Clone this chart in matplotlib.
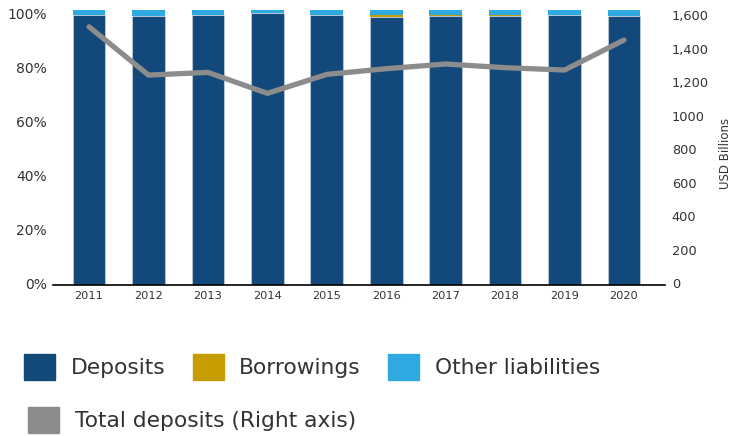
import matplotlib
matplotlib.use("Agg")
import matplotlib.pyplot as plt
from matplotlib.patches import Patch
from matplotlib.transforms import ScaledTranslation
import numpy as np

years = ["2011", "2012", "2013", "2014", "2015", "2016", "2017", "2018", "2019", "2020"]
deposits = [100.0, 99.8, 100.0, 100.9, 100.0, 99.4, 99.75, 99.75, 99.9, 99.8]
borrowings = [0.0, 0.0, 0.0, 0.0, 0.0, 0.6, 0.25, 0.25, 0.0, 0.0]
other_liab = [1.85, 2.0, 1.85, 0.95, 1.85, 1.85, 1.85, 1.85, 1.95, 2.0]
total_deposits = [1540, 1252, 1268, 1143, 1256, 1290, 1318, 1296, 1282, 1461]

left_ticks = [0, 20, 40, 60, 80, 100]
left_labels = ["0%", "20%", "40%", "60%", "80%", "100%"]
right_ticks = [0, 200, 400, 600, 800, 1000, 1200, 1400, 1600]
right_labels = ["0", "200", "400", "600", "800", "1000", "1,200", "1,400", "1,600"]

c_dep = "#12487A"
c_bor = "#C69C00"
c_oth = "#2EAAE1"
c_line = "#8C8C8C"
txt = "#333333"

plt.rcParams["font.family"] = ["DejaVu Sans"]

fig = plt.figure(figsize=(7.46, 4.36), dpi=100)
ax = fig.add_axes([53/746, 1-285/436, 612/746, 277/436])
x = np.arange(len(years))
w = 0.55
edge = (1, 1, 1, 0.35)
dep = np.array(deposits)
bor = np.array(borrowings)
oth = np.array(other_liab)
ax.bar(x, dep, w, color=c_dep, edgecolor=edge, linewidth=0.8)
ax.bar(x, bor, w, bottom=dep, color=c_bor, edgecolor="none")
ax.bar(x, oth, w, bottom=dep+bor, color=c_oth, edgecolor="none")
ax.set_xlim(-0.606, 9.69)
ax.set_ylim(0, 102.6)
ax.set_yticks(left_ticks)
ax.set_yticklabels(left_labels, fontsize=10, color=txt)
ax.set_xticks(x)
ax.set_xticklabels(years, fontsize=8.2, color=txt)
ax.tick_params(axis="y", length=0, pad=4.5)
ax.tick_params(axis="x", length=0, pad=4.5)
for s in ["left", "right", "top"]:
    ax.spines[s].set_visible(False)
ax.spines["bottom"].set_color("black")
ax.spines["bottom"].set_linewidth(1.2)

ax2 = ax.twinx()
ax2.plot(x, total_deposits, color=c_line, linewidth=3.8, solid_capstyle="round", solid_joinstyle="round")
ax2.set_ylim(0, 1652)
ax2.set_yticks(right_ticks)
ax2.set_yticklabels(right_labels, fontsize=9.3, color=txt)
ax2.tick_params(axis="y", length=0, pad=4.8)
for s in ["left", "right", "top", "bottom"]:
    ax2.spines[s].set_visible(False)
ax2.set_ylabel("USD Billions", fontsize=8.5, color=txt)
ax2.yaxis.set_label_coords(1.088, 0.4765)

up = ScaledTranslation(0, 1.1/72, fig.dpi_scale_trans)
for lab in ax.get_yticklabels():
    lab.set_transform(lab.get_transform() + up)
for lab in ax2.get_yticklabels():
    lab.set_transform(lab.get_transform() + up)

h1 = [Patch(color=c_dep, label="Deposits"),
      Patch(color=c_bor, label="Borrowings"),
      Patch(color=c_oth, label="Other liabilities")]
leg1 = fig.legend(handles=h1, loc="center left", bbox_to_anchor=(24/746, 1-367/436),
                  ncol=3, frameon=False, fontsize=15.7, borderpad=0, borderaxespad=0,
                  handlelength=1.44, handleheight=1.4, handletextpad=0.7, columnspacing=1.25,
                  labelcolor=txt)
h2 = [Patch(color=c_line, label="Total deposits (Right axis)")]
leg2 = fig.legend(handles=h2, loc="center left", bbox_to_anchor=(28/746, 1-420/436),
                  ncol=1, frameon=False, fontsize=15.7, borderpad=0, borderaxespad=0,
                  handlelength=1.44, handleheight=1.4, handletextpad=0.7,
                  labelcolor=txt)

fig.savefig("out.png", dpi=100)
